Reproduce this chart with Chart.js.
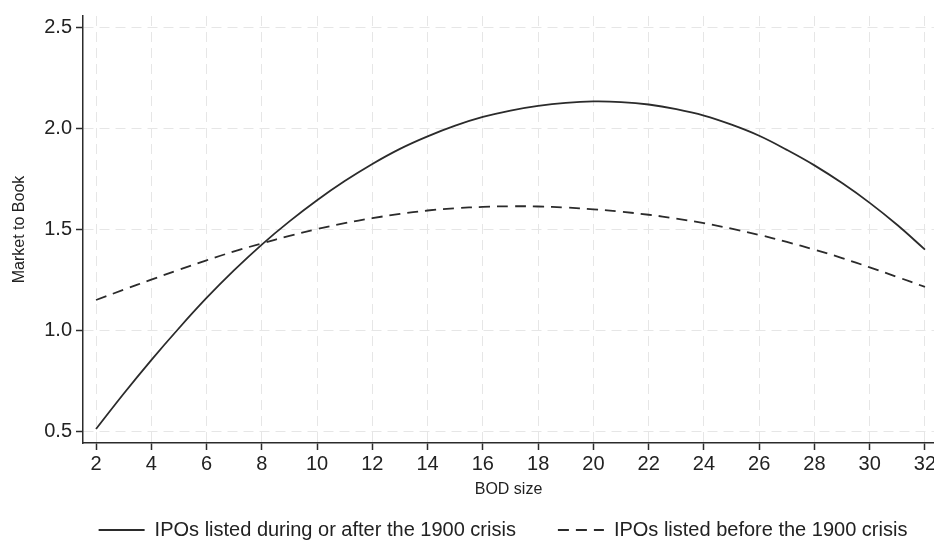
<!DOCTYPE html>
<html>
<head>
<meta charset="utf-8">
<script src="https://cdn.jsdelivr.net/npm/chart.js@4/dist/chart.umd.min.js"></script>
<style>
  html, body { margin: 0; padding: 0; background: #fff; overflow: hidden; }
  #wrap { width: 1010px; height: 550px; }
</style>
</head>
<body>
<div id="wrap"><canvas id="mtbChart" width="1010" height="550"></canvas></div>
<script>
const bodSize = [2, 3, 4, 5, 6, 7, 8, 9, 10, 11, 12, 13, 14, 15, 16, 17,
  18, 19, 20, 21, 22, 23, 24, 25, 26, 27, 28, 29, 30, 31, 32];
const afterCrisis = [0.51, 0.685, 0.852, 1.01, 1.16, 1.298, 1.425, 1.54, 1.645, 1.74,
  1.825, 1.90, 1.962, 2.015, 2.058, 2.09, 2.113, 2.128, 2.135, 2.132, 2.12, 2.097,
  2.065, 2.02, 1.965, 1.895, 1.818, 1.73, 1.632, 1.522, 1.40];
const beforeCrisis = [1.15, 1.201, 1.251, 1.30, 1.347, 1.391, 1.431, 1.468, 1.502, 1.531,
  1.556, 1.577, 1.594, 1.605, 1.612, 1.615, 1.614, 1.609, 1.60, 1.588, 1.573, 1.554,
  1.531, 1.504, 1.473, 1.438, 1.40, 1.358, 1.312, 1.264, 1.215];
const xTicks = [2, 4, 6, 8, 10, 12, 14, 16, 18, 20, 22, 24, 26, 28, 30, 32];
const yTicks = [0.5, 1.0, 1.5, 2.0, 2.5];
const seriesNames = ["IPOs listed during or after the 1900 crisis", "IPOs listed before the 1900 crisis"];

const ink = "#2b2b2b";
const gridGrey = "#e6e6e6";
const fontFamily = "'Liberation Sans', Arial, Helvetica, sans-serif";

function toPoints(values) {
  return bodSize.map((x, i) => ({ x: x, y: values[i] }));
}

// the legend in the original is centred on the plot region, not the canvas
const legendShift = {
  id: "legendShift",
  afterLayout(c) {
    c.legend.left += 36;
    c.legend.right += 36;
  },
};

const chart = new Chart(document.getElementById("mtbChart"), {
  type: "line",
  data: {
    datasets: [
      {
        label: seriesNames[0],
        data: toPoints(afterCrisis),
        borderColor: ink,
        borderWidth: 1.8,
        pointRadius: 0,
        tension: 0.4,
      },
      {
        label: seriesNames[1],
        data: toPoints(beforeCrisis),
        borderColor: ink,
        borderWidth: 1.8,
        borderDash: [11, 7],
        pointRadius: 0,
        tension: 0.4,
      },
    ],
  },
  plugins: [legendShift],
  options: {
    responsive: false,
    animation: false,
    layout: { padding: { top: 15, right: 76, left: 0, bottom: 0 } },
    plugins: {
      tooltip: { enabled: false },
      legend: {
        position: "bottom",
        labels: {
          usePointStyle: true,
          pointStyle: "line",
          pointStyleWidth: 46,
          padding: 42,
          color: "#222",
          font: { family: fontFamily, size: 20 },
          generateLabels: (c) =>
            Chart.defaults.plugins.legend.labels.generateLabels(c).map((item, i) => ({
              ...item,
              strokeStyle: ink,
              lineWidth: 1.8,
              lineDash: c.data.datasets[i].borderDash || [],
            })),
        },
      },
    },
    scales: {
      x: {
        type: "linear",
        min: 1.529,
        max: 32.326,
        afterBuildTicks: (s) => { s.ticks = xTicks.map((v) => ({ value: v })); },
        afterFit: (s) => { s.height = 35; },
        ticks: {
          color: "#222",
          padding: 2,
          maxRotation: 0,
          autoSkip: false,
          font: { family: fontFamily, size: 20 },
          callback: (v) => String(v),
        },
        grid: { color: gridGrey, lineWidth: 1, tickColor: ink, tickLength: 7, tickWidth: 1.5 },
        border: { color: ink, width: 1.5, dash: [10, 6] },
        title: {
          display: true,
          text: "BOD size",
          color: "#222",
          font: { family: fontFamily, size: 16 },
          padding: { top: 0, bottom: -21.6 },
        },
      },
      y: {
        min: 0.4406,
        max: 2.559,
        afterBuildTicks: (s) => { s.ticks = yTicks.map((v) => ({ value: v })); },
        afterFit: (s) => { s.width = 83; },
        ticks: {
          color: "#222",
          padding: 4,
          font: { family: fontFamily, size: 20 },
          callback: (v) => Number(v).toFixed(1),
        },
        grid: { color: gridGrey, lineWidth: 1, tickColor: ink, tickLength: 7, tickWidth: 1.5 },
        border: { color: ink, width: 1.5, dash: [10, 6] },
        title: {
          display: true,
          text: "Market to Book",
          color: "#222",
          font: { family: fontFamily, size: 16 },
          padding: { top: 10, bottom: 0 },
        },
      },
    },
  },
});
</script>
</body>
</html>
